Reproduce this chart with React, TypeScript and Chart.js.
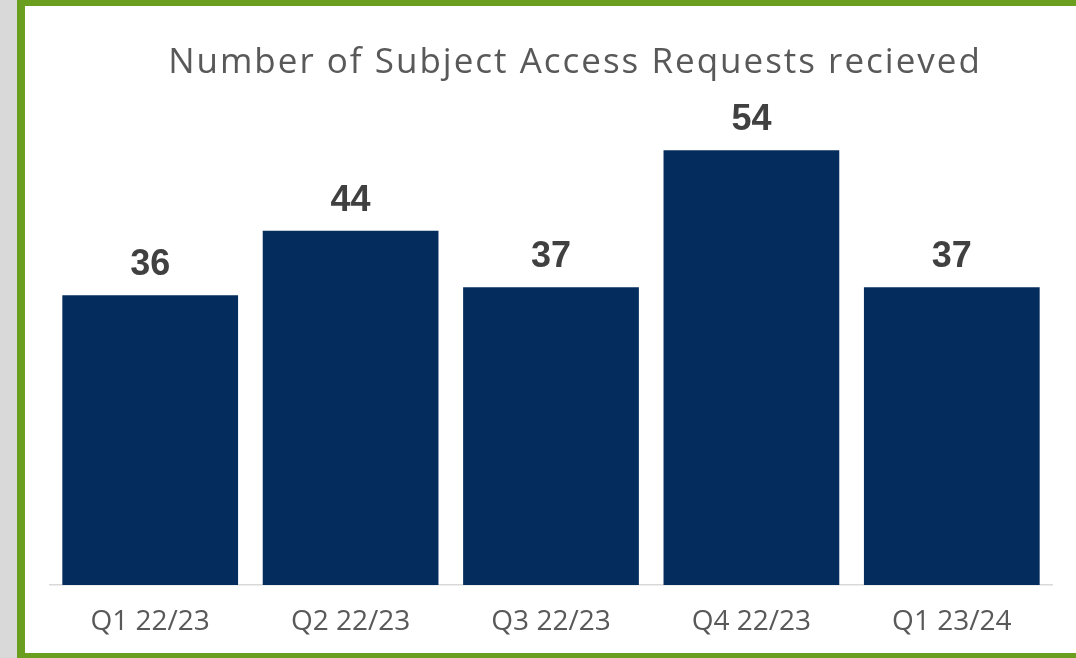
import React, { useEffect, useRef } from "react";
import { Chart, registerables } from "chart.js";

Chart.register(...registerables);

const categories = ["Q1 22/23", "Q2 22/23", "Q3 22/23", "Q4 22/23", "Q1 23/24"];
const requests = [36, 44, 37, 54, 37];
const chartTitle = "Number of Subject Access Requests recieved";

const TITLE_FONT = '"Open Sans", "Liberation Sans", sans-serif';
const LABEL_FONT = '"Liberation Sans", Arial, sans-serif';

const overlayPlugin = {
  id: "overlay",
  afterDatasetsDraw(chart: any) {
    const ctx = chart.ctx;
    ctx.save();
    // title
    ctx.fillStyle = "#595959";
    ctx.font = `400 35px ${TITLE_FONT}`;
    (ctx as any).letterSpacing = "2px";
    ctx.textAlign = "center";
    ctx.textBaseline = "alphabetic";
    ctx.fillText(chartTitle, 575, 73);
    (ctx as any).letterSpacing = "0px";
    // value labels
    const meta = chart.getDatasetMeta(0);
    ctx.fillStyle = "#404040";
    ctx.font = `bold 36px ${LABEL_FONT}`;
    meta.data.forEach((bar: any, i: number) => {
      ctx.fillText(String(requests[i]), bar.x, bar.y - 20);
    });
    ctx.restore();
  },
};

export default function App() {
  const ref = useRef<HTMLCanvasElement | null>(null);
  useEffect(() => {
    document.body.style.margin = "0";
    const chart = new Chart(ref.current!, {
      type: "bar",
      data: {
        labels: categories,
        datasets: [
          {
            data: requests,
            backgroundColor: "#042c5c",
            categoryPercentage: 0.877,
            barPercentage: 1,
          },
        ],
      },
      options: {
        animation: false,
        responsive: false,
        maintainAspectRatio: false,
        layout: { padding: { left: 50, right: 24, top: 102, bottom: 0 } },
        plugins: {
          legend: { display: false },
          tooltip: { enabled: false },
          title: { display: false },
        },
        scales: {
          x: {
            grid: { display: false },
            border: { display: true, color: "#d9d9d9", width: 1.5 },
            ticks: {
              color: "#595959",
              font: { family: TITLE_FONT, size: 28 },
              padding: 12,
              maxRotation: 0,
            },
            afterFit(scale: any) {
              scale.height = 73;
            },
          },
          y: {
            display: false,
            min: 0,
            max: 60,
          },
        },
      },
      plugins: [overlayPlugin],
    });
    return () => chart.destroy();
  }, []);

  return (
    <div style={{ position: "fixed", left: 0, top: 0, width: 1076, height: 658, background: "#d9d9d9", overflow: "hidden" }}>
      <div
        style={{
          position: "absolute",
          left: 17,
          top: 0,
          width: 1076,
          height: 658,
          boxSizing: "border-box",
          background: "#ffffff",
          borderLeft: "8px solid #6a9e1f",
          borderTop: "6px solid #6a9e1f",
          borderBottom: "5px solid #6a9e1f",
        }}
      />
      <canvas ref={ref} width={1076} height={658} style={{ position: "absolute", left: 0, top: 0 }} />
    </div>
  );
}
